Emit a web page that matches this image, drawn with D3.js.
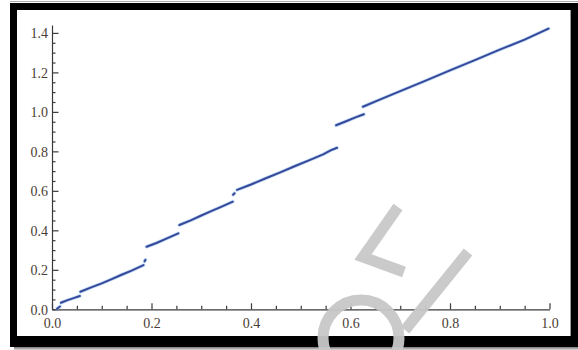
<!DOCTYPE html>
<html>
<head>
<meta charset="utf-8">
<script src="https://cdn.jsdelivr.net/npm/d3@7"></script>
<style>
  html, body { margin: 0; padding: 0; background: #fff; }
  svg { display: block; }
</style>
</head>
<body>
<svg id="chart" width="578" height="350"></svg>
<script>
// Piecewise curve: each piece is a list of [x, y] samples
const segment0 = [[0.010, 0.003], [0.016, 0.014]];
const segment1 = [[0.018, 0.033], [0.030, 0.045], [0.045, 0.058], [0.056, 0.067]];
const segment2 = [[0.057, 0.089], [0.080, 0.112], [0.100, 0.131], [0.120, 0.153], [0.140, 0.175], [0.160, 0.196], [0.184, 0.224]];
const segment3 = [[0.186, 0.243], [0.188, 0.251]];
const segment4 = [[0.190, 0.317], [0.210, 0.336], [0.230, 0.358], [0.254, 0.385]];
const segment5 = [[0.256, 0.427], [0.280, 0.452], [0.300, 0.475], [0.320, 0.497], [0.340, 0.519], [0.3635, 0.545]];
const segment6 = [[0.364, 0.580], [0.367, 0.588]];
const segment7 = [[0.372, 0.605], [0.400, 0.632], [0.430, 0.664], [0.460, 0.695], [0.490, 0.727], [0.520, 0.758], [0.545, 0.785], [0.560, 0.805], [0.573, 0.818]];
const segment8 = [[0.571, 0.932], [0.590, 0.951], [0.610, 0.972], [0.627, 0.988]];
const segment9 = [[0.625, 1.026], [0.660, 1.063], [0.700, 1.105], [0.750, 1.157], [0.800, 1.210], [0.850, 1.262], [0.900, 1.315], [0.950, 1.366], [0.998, 1.422]];
const segments = [segment0, segment1, segment2, segment3, segment4, segment5, segment6, segment7, segment8, segment9];

// Axis ticks
const xMajorTicks = [0, 0.2, 0.4, 0.6, 0.8, 1.0];
const xMinorTicks = [0.05, 0.1, 0.15, 0.25, 0.3, 0.35, 0.45, 0.5, 0.55, 0.65, 0.7, 0.75, 0.85, 0.9, 0.95];
const yMajorTicks = [0, 0.2, 0.4, 0.6, 0.8, 1.0, 1.2, 1.4];
const yMinorTicks = [0.05, 0.1, 0.15, 0.25, 0.3, 0.35, 0.45, 0.5, 0.55, 0.65, 0.7, 0.75, 0.85, 0.9, 0.95, 1.05, 1.1, 1.15, 1.25, 1.3, 1.35];

const svg = d3.select("#chart");

// Picture frame: thin grey rim, thick black border, soft drop shadow
const defs = svg.append("defs");
const shadow = defs.append("linearGradient").attr("id", "shadowGrad").attr("x1", 0).attr("y1", 0).attr("x2", 0).attr("y2", 1);
shadow.append("stop").attr("offset", "0%").attr("stop-color", "#555");
shadow.append("stop").attr("offset", "100%").attr("stop-color", "#ddd");
svg.append("rect").attr("x", 14).attr("y", 346).attr("width", 564).attr("height", 4).attr("fill", "url(#shadowGrad)");
svg.append("line").attr("x1", 10).attr("x2", 578).attr("y1", 1.5).attr("y2", 1.5).attr("stroke", "#aaa").attr("stroke-width", 1);
svg.append("rect").attr("x", 10).attr("y", 3).attr("width", 570).attr("height", 344).attr("fill", "#000");
svg.append("rect").attr("x", 17).attr("y", 10).attr("width", 554).attr("height", 326).attr("fill", "#fff");
svg.append("line").attr("x1", 570.5).attr("x2", 570.5).attr("y1", 10).attr("y2", 336).attr("stroke", "#999").attr("stroke-width", 1);

const x = d3.scaleLinear().domain([0, 1]).range([52, 549.5]);
const y = d3.scaleLinear().domain([0, 1.44]).range([309.3, 25]);

const fmt = d3.format(".1f");
const axisColor = "#3a3a3a";
const labelColor = "#4a3e34";
const fontFamily = "'Liberation Serif', 'DejaVu Serif', serif";

// x axis: inward ticks, major and minor
const gx = svg.append("g").attr("transform", `translate(0,${y(0)})`);
gx.call(d3.axisBottom(x).tickValues(xMinorTicks).tickSize(-3.5).tickFormat(""));
gx.call(g => g.select(".domain").remove());
const gxMajor = svg.append("g").attr("transform", `translate(0,${y(0)})`)
  .call(d3.axisBottom(x).tickValues(xMajorTicks).tickSizeInner(-6).tickSizeOuter(0).tickPadding(10).tickFormat(fmt));

// y axis: inward ticks, major and minor
const gy = svg.append("g").attr("transform", `translate(${x(0)},0)`);
gy.call(d3.axisLeft(y).tickValues(yMinorTicks).tickSize(-3.5).tickFormat(""));
gy.call(g => g.select(".domain").remove());
const gyMajor = svg.append("g").attr("transform", `translate(${x(0)},0)`)
  .call(d3.axisLeft(y).tickValues(yMajorTicks).tickSizeInner(-6.5).tickSizeOuter(0).tickPadding(5).tickFormat(fmt));

svg.selectAll(".tick line").attr("stroke", axisColor).attr("stroke-width", 1.2);
svg.selectAll(".domain").attr("stroke", axisColor).attr("stroke-width", 1.2);
svg.selectAll(".tick text")
  .attr("fill", labelColor)
  .style("font-family", fontFamily)
  .style("font-size", "14px");
gxMajor.selectAll(".tick text").attr("y", 9).attr("dy", "0.71em");
gyMajor.selectAll(".tick text").attr("x", -4).attr("dy", "0.34em");

// The curve pieces
const line = d3.line().x(d => x(d[0])).y(d => y(d[1]));
const curve = svg.append("g");
curve.selectAll("path.halo").data(segments).join("path")
  .attr("class", "halo")
  .attr("d", line)
  .attr("fill", "none")
  .attr("stroke", "#8fc3ee")
  .attr("stroke-opacity", 0.55)
  .attr("stroke-width", 3.6)
  .attr("stroke-linecap", "round");
curve.selectAll("path.main").data(segments).join("path")
  .attr("class", "main")
  .attr("d", line)
  .attr("fill", "none")
  .attr("stroke", "#37479a")
  .attr("stroke-width", 2)
  .attr("stroke-linecap", "round");

// Light grey watermark strokes over the plot
const mark = svg.append("g").attr("fill", "none").attr("stroke", "#c8c8c8").attr("stroke-width", 11).attr("opacity", 0.95);
mark.append("circle").attr("cx", 361).attr("cy", 338).attr("r", 38);
mark.append("path").attr("d", "M398,207 L363,257 L404,272 M468,252 L405,330").attr("stroke-linejoin", "miter");
</script>
</body>
</html>
